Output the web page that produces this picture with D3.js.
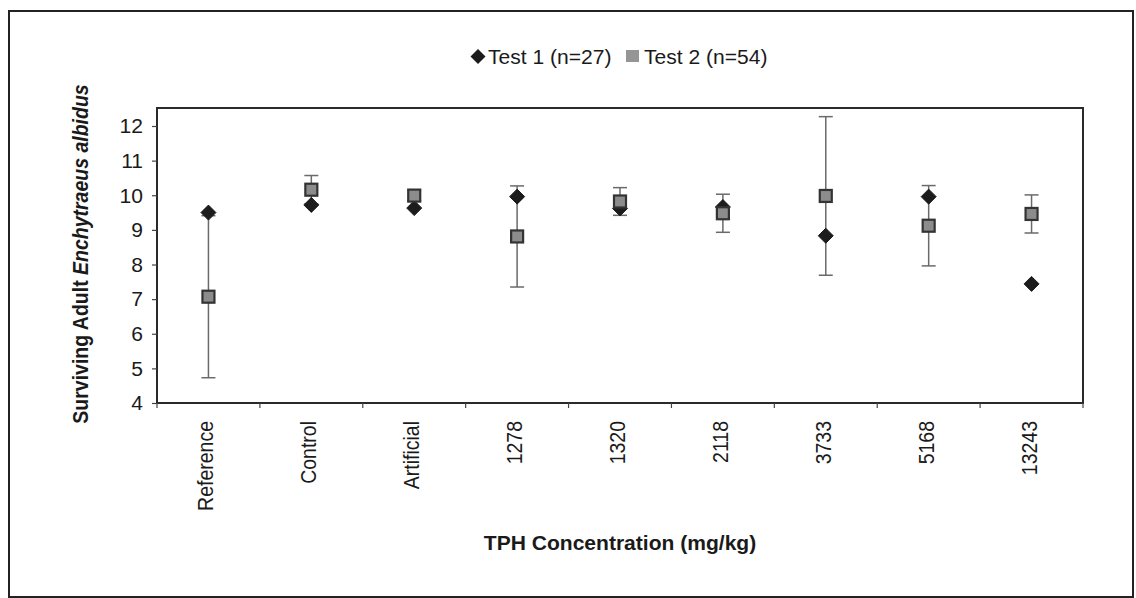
<!DOCTYPE html>
<html>
<head>
<meta charset="utf-8">
<script src="https://cdn.jsdelivr.net/npm/d3@7"></script>
<style>
  html, body { margin: 0; padding: 0; background: #fff; }
  svg { display: block; }
  text { font-family: "Liberation Sans", Arial, sans-serif; fill: #1a1a1a; }
</style>
</head>
<body>
<svg id="chart" width="1136" height="598"></svg>
<script>
// ---- data ----
const categories = ["Reference", "Control", "Artificial", "1278", "1320", "2118", "3733", "5168", "13243"];
const test1 = [9.50, 9.72, 9.63, 9.96, 9.62, 9.66, 8.83, 9.96, 7.44];
const test2 = [7.07, 10.16, 9.99, 8.81, 9.82, 9.48, 9.98, 9.12, 9.46];
const test2Err = [2.34, 0.41, 0.15, 1.46, 0.40, 0.55, 2.29, 1.16, 0.55];
const yTicks = [4, 5, 6, 7, 8, 9, 10, 11, 12];
const seriesNames = ["Test 1 (n=27)", "Test 2 (n=54)"];

// ---- layout ----
const W = 1136, H = 598;
const plot = { left: 157, right: 1083, top: 108, bottom: 403 };
const SX = 1.08; // horizontal stretch for horizontal text
const SR = 1.12; // stretch for rotated text
const FS = 19.5;

const svg = d3.select("#chart");
svg.append("rect").attr("width", W).attr("height", H).attr("fill", "#fff");

// outer frame
svg.append("rect")
  .attr("x", 9).attr("y", 11).attr("width", 1124).attr("height", 586)
  .attr("fill", "none").attr("stroke", "#222").attr("stroke-width", 2);

const x = d3.scaleBand().domain(categories).range([plot.left, plot.right]);
const y = d3.scaleLinear().domain([4, 12.52]).range([plot.bottom, plot.top]);

// plot frame
svg.append("rect")
  .attr("x", plot.left).attr("y", plot.top)
  .attr("width", plot.right - plot.left).attr("height", plot.bottom - plot.top)
  .attr("fill", "none").attr("stroke", "#2a2a2a").attr("stroke-width", 2);

// y axis
const yAxis = svg.append("g")
  .attr("transform", `translate(${plot.left},0)`)
  .call(d3.axisLeft(y).tickValues(yTicks).tickSize(5).tickPadding(9).tickFormat(d3.format("d")));
yAxis.select(".domain").remove();
yAxis.selectAll(".tick line").attr("stroke", "#444").attr("stroke-width", 1.2);
yAxis.selectAll(".tick text")
  .attr("x", null).attr("dy", null)
  .attr("transform", `translate(-14,6.8) scale(${SX},1)`)
  .style("font-size", FS + "px")
  .style("font-family", '"Liberation Sans", Arial, sans-serif')
  .attr("fill", "#1a1a1a");

// x axis ticks at category boundaries
const bounds = categories.map(c => x(c)).concat([plot.right]);
svg.append("g").selectAll("line").data(bounds).join("line")
  .attr("x1", d => d).attr("x2", d => d)
  .attr("y1", plot.bottom).attr("y2", plot.bottom + 5)
  .attr("stroke", "#444").attr("stroke-width", 1.2);

// x tick labels rotated
svg.append("g").selectAll("text").data(categories).join("text")
  .attr("transform", d => `translate(${x(d) + x.bandwidth() / 2 + 5},421) scale(${SR},1) rotate(-90)`)
  .attr("text-anchor", "end")
  .style("font-size", FS + "px")
  .text(d => d);

// error bars (Test 2)
const cap = 7;
const eg = svg.append("g").attr("stroke", "#6a6a6a").attr("stroke-width", 1.5);
categories.forEach((c, i) => {
  const cx = x(c) + x.bandwidth() / 2;
  const hi = y(test2[i] + test2Err[i]), lo = y(test2[i] - test2Err[i]);
  eg.append("line").attr("x1", cx).attr("x2", cx).attr("y1", hi).attr("y2", lo);
  eg.append("line").attr("x1", cx - cap).attr("x2", cx + cap).attr("y1", hi).attr("y2", hi);
  eg.append("line").attr("x1", cx - cap).attr("x2", cx + cap).attr("y1", lo).attr("y2", lo);
});

// Test 1 diamonds
const dHalfX = 7.5, dHalfY = 7.5;
const diamondPath = (cx, cy) => `M${cx},${cy - dHalfY}L${cx + dHalfX},${cy}L${cx},${cy + dHalfY}L${cx - dHalfX},${cy}Z`;
svg.append("g").selectAll("path").data(test1).join("path")
  .attr("d", (d, i) => diamondPath(x(categories[i]) + x.bandwidth() / 2, y(d)))
  .attr("fill", "#1c1c1c").attr("stroke", "#1c1c1c").attr("stroke-width", 1);

// Test 2 squares
const sq = 12;
svg.append("g").selectAll("rect").data(test2).join("rect")
  .attr("x", (d, i) => x(categories[i]) + x.bandwidth() / 2 - sq / 2)
  .attr("y", d => y(d) - sq / 2)
  .attr("width", sq).attr("height", sq)
  .attr("fill", "#8c8c8c").attr("stroke", "#333").attr("stroke-width", 2.2);

// legend
const lg = svg.append("g");
lg.append("path").attr("d", diamondPath(478, 56.5)).attr("fill", "#1c1c1c");
lg.append("text").attr("transform", `translate(488,63.5) scale(${SX},1)`).style("font-size", FS + "px").text(seriesNames[0]);
lg.append("rect").attr("x", 626).attr("y", 50).attr("width", 13).attr("height", 12).attr("fill", "#959595");
lg.append("text").attr("transform", `translate(644,63.5) scale(${SX},1)`).style("font-size", FS + "px").text(seriesNames[1]);

// axis titles
svg.append("text")
  .attr("transform", `translate(${(plot.left + plot.right) / 2},550) scale(${SX},1)`)
  .attr("text-anchor", "middle")
  .style("font-size", FS + "px").style("font-weight", "bold")
  .text("TPH Concentration (mg/kg)");

const yt = svg.append("text")
  .attr("transform", `translate(88,254) scale(${SR},1) rotate(-90)`)
  .attr("text-anchor", "middle")
  .style("font-size", FS + "px").style("font-weight", "bold");
yt.append("tspan").text("Surviving Adult ");
yt.append("tspan").style("font-style", "italic").text("Enchytraeus albidus");
</script>
</body>
</html>
